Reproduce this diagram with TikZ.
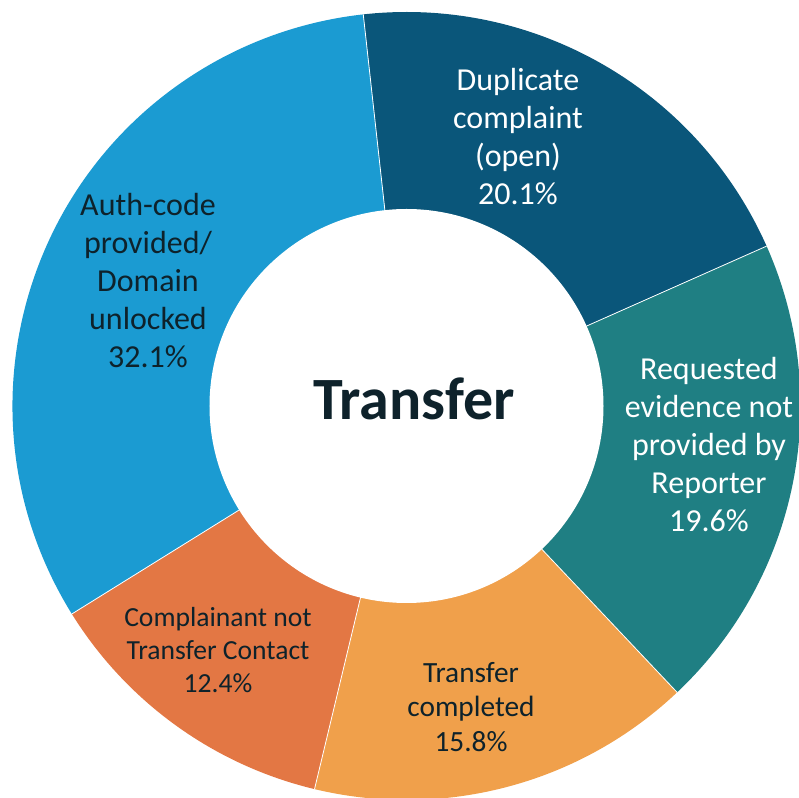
\documentclass[tikz,border=0pt]{standalone}
\usepackage{fontspec}
\setmainfont{Carlito}
\usepackage{xcolor}
\usepackage{tikz}
\usetikzlibrary{calc}

\definecolor{authblue}{HTML}{1B9BD2}
\definecolor{dupnavy}{HTML}{0A567A}
\definecolor{reqteal}{HTML}{1F7F83}
\definecolor{doneorange}{HTML}{F0A04B}
\definecolor{contactorange}{HTML}{E37744}
\definecolor{labeldark}{HTML}{0E222B}

\tikzset{
  slicelabel/.style={align=center, inner sep=0pt},
  darklabel/.style={slicelabel, text=labeldark},
  lightlabel/.style={slicelabel, text=white}
}

\begin{document}
\begin{tikzpicture}[x=0.75pt, y=0.75pt]
  \useasboundingbox (-406.5,-392) rectangle (392.5,406);

  % 扇形 (外半径 394)
  \fill[dupnavy]
    (0,0) -- (96.3:394) arc[start angle=96.3, end angle=23.94, radius=394] -- cycle;
  \fill[reqteal]
    (0,0) -- (23.94:394) arc[start angle=23.94, end angle=-46.62, radius=394] -- cycle;
  \fill[doneorange]
    (0,0) -- (-46.62:394) arc[start angle=-46.62, end angle=-103.5, radius=394] -- cycle;
  \fill[contactorange]
    (0,0) -- (-103.5:394) arc[start angle=-103.5, end angle=-148.14, radius=394] -- cycle;
  \fill[authblue]
    (0,0) -- (-148.14:394) arc[start angle=-148.14, end angle=-263.7, radius=394] -- cycle;

  % 境界線
  \draw[white, line width=0.6pt]
    (0,0) -- (96.3:394)
    (0,0) -- (23.94:394)
    (0,0) -- (-46.62:394)
    (0,0) -- (-103.5:394)
    (0,0) -- (-148.14:394);

  % 中央の穴
  \fill[white] (0,0) circle (197);

  % ラベル
  \node[lightlabel, font=\fontsize{24}{28.3}\selectfont] (dup) at (111.5,269.5)
    {Duplicate\\complaint\\(open)\\20.1\%};
  \node[lightlabel, font=\fontsize{24}{28.5}\selectfont] (req) at (302.5,-38.5)
    {Requested\\evidence not\\provided by\\Reporter\\19.6\%};
  \node[darklabel, font=\fontsize{22}{25.8}\selectfont] (done) at (64.5,-301)
    {Transfer\\completed\\15.8\%};
  \node[darklabel, font=\fontsize{20.7}{24.5}\selectfont] (contact) at (-188.5,-244)
    {Complainant not\\Transfer Contact\\12.4\%};
  \node[darklabel, font=\fontsize{24}{28.5}\selectfont] (auth) at (-258.5,125)
    {Auth-code\\provided/\\Domain\\unlocked\\32.1\%};

  % タイトル
  \node[darklabel, font=\fontsize{45}{52}\selectfont\bfseries] (title) at (7.5,7) {Transfer};
\end{tikzpicture}
\end{document}
